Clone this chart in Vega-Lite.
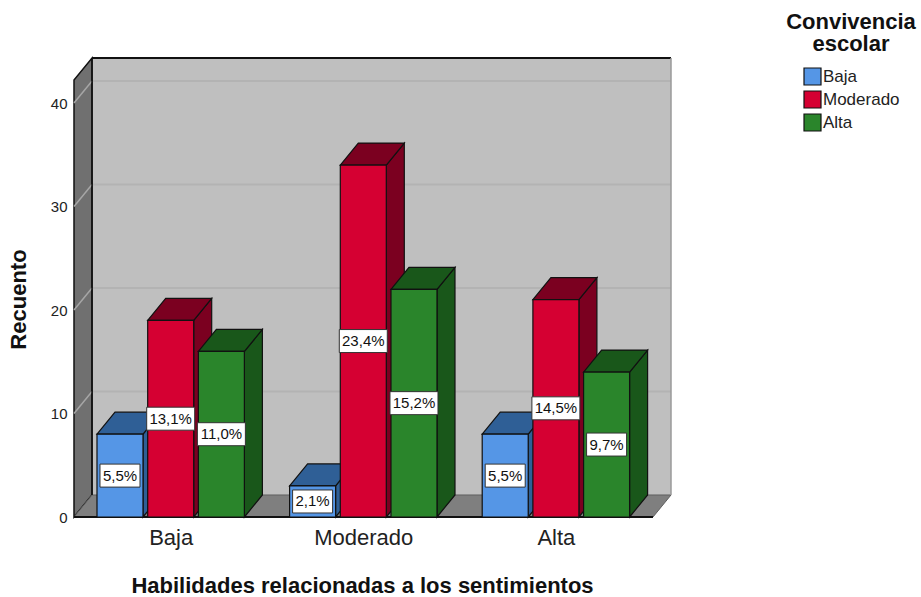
{
"$schema":"https://vega.github.io/schema/vega-lite/v6.json",
"width":597,"height":459,
"autosize":{"type":"none"},
"padding":{"left":74,"top":58,"right":250,"bottom":80},
"background":"white",
"config":{"font":"Liberation Sans","view":{"stroke":null}},
"datasets":{
"barras":[
{"grupo":"Baja","serie":"Baja","recuento":8,"pct":"5,5%"},
{"grupo":"Baja","serie":"Moderado","recuento":19,"pct":"13,1%"},
{"grupo":"Baja","serie":"Alta","recuento":16,"pct":"11,0%"},
{"grupo":"Moderado","serie":"Baja","recuento":3,"pct":"2,1%"},
{"grupo":"Moderado","serie":"Moderado","recuento":34,"pct":"23,4%"},
{"grupo":"Moderado","serie":"Alta","recuento":22,"pct":"15,2%"},
{"grupo":"Alta","serie":"Baja","recuento":8,"pct":"5,5%"},
{"grupo":"Alta","serie":"Moderado","recuento":21,"pct":"14,5%"},
{"grupo":"Alta","serie":"Alta","recuento":14,"pct":"9,7%"}
],
"marcas":[{"t":10},{"t":20},{"t":30},{"t":40}]
},
"encoding":{
"x":{"field":"X","type":"quantitative","scale":{"domain":[-0.502,2.5976],"nice":false,"zero":false},
"axis":{"values":[0,1,2],"labelExpr":"['Baja','Moderado','Alta'][datum.value]","grid":false,"ticks":false,"domain":false,"labelFontSize":22,"labelColor":"#222222","labelPadding":10,"labelOverlap":false,"labelFlush":false,"labelBound":false,"title":"Habilidades relacionadas a los sentimientos","titleFontSize":22,"titleFontWeight":"bold","titleColor":"#111111","titleX":288,"titleY":58}},
"y":{"field":"Y","type":"quantitative","stack":null,"scale":{"domain":[0,44.35],"nice":false,"zero":false},
"axis":{"values":[0,10,20,30,40],"grid":false,"ticks":false,"domain":false,"labelFontSize":15,"labelColor":"#222222","labelPadding":7,"labelOverlap":false,"labelBound":false,"labelFlush":false,"title":"Recuento","titleFontSize":22,"titleFontWeight":"bold","titleColor":"#111111","titleX":-44,"titleY":241}}
},
"layer":[
{"data":{"values":[{"k":0}]},"mark":{"type":"rect","fill":"#bfbfbf"},
"transform":[{"calculate":"-0.4085","as":"X"},{"calculate":"2.5976","as":"X2"},{"calculate":"2.126","as":"Y"},{"calculate":"44.35","as":"Y2"}],
"encoding":{"x2":{"field":"X2"},"y2":{"field":"Y2"}}},
{"data":{"name":"marcas"},"mark":{"type":"rule","stroke":"#b3b3b3","strokeWidth":2},
"transform":[{"calculate":"-0.4085","as":"X"},{"calculate":"2.5976","as":"X2"},{"calculate":"datum.t+2.126","as":"Y"}],
"encoding":{"x2":{"field":"X2"}}},
{"data":{"values":[{"k":0},{"k":1}]},"mark":{"type":"area","orient":"vertical","fill":"#707070","stroke":"#111111","strokeWidth":1.5},
"transform":[{"calculate":"-0.502+datum.k*0.0935","as":"X"},{"calculate":"datum.k*2.126","as":"Y"},{"calculate":"42.224+datum.k*2.126","as":"Y2"}],
"encoding":{"y2":{"field":"Y2"}}},
{"data":{"name":"marcas"},"mark":{"type":"rule","stroke":"#a6a6a6","strokeWidth":1.5},
"transform":[{"calculate":"-0.502","as":"X"},{"calculate":"-0.4085","as":"X2"},{"calculate":"datum.t","as":"Y"},{"calculate":"datum.t+2.126","as":"Y2"}],
"encoding":{"x2":{"field":"X2"},"y2":{"field":"Y2"}}},
{"data":{"values":[{"k":0},{"k":1},{"k":2},{"k":3}]},"mark":{"type":"area","orient":"vertical","fill":"#7f7f7f","stroke":"#5f5f5f","strokeWidth":1},
"transform":[{"calculate":"[-0.502,-0.4085,2.5041,2.5976][datum.k]","as":"X"},{"calculate":"[0,0,0,2.126][datum.k]","as":"Y"},{"calculate":"[0,2.126,2.126,2.126][datum.k]","as":"Y2"}],
"encoding":{"y2":{"field":"Y2"}}},
{"data":{"values":[{"k":0}]},"mark":{"type":"rule","stroke":"#111111","strokeWidth":2},
"transform":[{"calculate":"-0.4085","as":"X"},{"calculate":"2.5976","as":"X2"},{"calculate":"44.35","as":"Y"}],
"encoding":{"x2":{"field":"X2"}}},
{"data":{"values":[{"k":0}]},"mark":{"type":"rule","stroke":"#111111","strokeWidth":1.5},
"transform":[{"calculate":"-0.4085","as":"X"},{"calculate":"2.126","as":"Y"},{"calculate":"44.35","as":"Y2"}],
"encoding":{"y2":{"field":"Y2"}}},
{"data":{"values":[{"k":0}]},"mark":{"type":"rule","stroke":"#9a9a9a","strokeWidth":1.5},
"transform":[{"calculate":"2.5976","as":"X"},{"calculate":"2.126","as":"Y"},{"calculate":"44.35","as":"Y2"}],
"encoding":{"y2":{"field":"Y2"}}},
{"data":{"values":[{"k":0}]},"mark":{"type":"rule","stroke":"#111111","strokeWidth":2},
"transform":[{"calculate":"-0.502","as":"X"},{"calculate":"2.5041","as":"X2"},{"calculate":"0","as":"Y"}],
"encoding":{"x2":{"field":"X2"}}},
{"data":{"name":"barras"},
"transform":[
{"calculate":"indexof(['Baja','Moderado','Alta'],datum.grupo)","as":"g"},
{"calculate":"indexof(['Baja','Moderado','Alta'],datum.serie)","as":"s"},
{"calculate":"datum.g+(datum.s-1)*0.2632","as":"xc"},
{"calculate":"datum.xc-0.1194","as":"xl"},
{"calculate":"datum.serie+' oscuro'","as":"tono"}
],
"layer":[
{"mark":{"type":"area","orient":"vertical","stroke":"#111111","strokeWidth":1.2},
"transform":[{"calculate":"[0,1]","as":"k"},{"flatten":["k"]},
{"calculate":"datum.xl+0.2388+datum.k*0.0935","as":"X"},{"calculate":"datum.k*2.126","as":"Y"},{"calculate":"datum.recuento+datum.k*2.126","as":"Y2"}],
"encoding":{"y2":{"field":"Y2"},"detail":{"field":"grupo"},"color":{"field":"tono","type":"nominal","scale":{"domain":["Baja","Moderado","Alta","Baja oscuro","Moderado oscuro","Alta oscuro"],"range":["#5596e6","#d50032","#2a852b","#2f5f96","#7b0020","#19571a"]},"legend":{"values":["Baja","Moderado","Alta"],"orient":"none","legendX":712,"legendY":-46,"title":["Convivencia","escolar"],"titleFontSize":22,"titleFontWeight":"bold","titleColor":"#111111","titleAlign":"center","titleAnchor":"middle","titleLineHeight":22,"titlePadding":11,"symbolType":"square","symbolSize":289,"symbolStrokeColor":"#111111","symbolStrokeWidth":1.2,"labelFontSize":17,"labelColor":"#222222","labelOffset":1,"rowPadding":0}}}},
{"mark":{"type":"area","orient":"vertical","stroke":"#111111","strokeWidth":1.2},
"transform":[{"calculate":"[0,1,2,3]","as":"k"},{"flatten":["k"]},
{"calculate":"datum.xl+[0,0.0935,0.2388,0.3323][datum.k]","as":"X"},{"calculate":"datum.recuento+[0,0,0,2.126][datum.k]","as":"Y"},{"calculate":"datum.recuento+[0,2.126,2.126,2.126][datum.k]","as":"Y2"}],
"encoding":{"y2":{"field":"Y2"},"detail":{"field":"grupo"},"color":{"field":"tono","type":"nominal"}}},
{"mark":{"type":"rect","stroke":"#111111","strokeWidth":1.2},
"transform":[{"calculate":"datum.xl","as":"X"},{"calculate":"datum.xl+0.2388","as":"X2"},{"calculate":"0","as":"Y"},{"calculate":"datum.recuento","as":"Y2"}],
"encoding":{"x2":{"field":"X2"},"y2":{"field":"Y2"},"color":{"field":"serie","type":"nominal"}}},
{"mark":{"type":"rect","fill":"white","stroke":"#333333","strokeWidth":1,"width":40,"height":23},
"transform":[{"filter":"length(datum.pct)==4"},{"calculate":"datum.xc","as":"X"},{"calculate":"datum.recuento/2","as":"Y"}]},
{"mark":{"type":"rect","fill":"white","stroke":"#333333","strokeWidth":1,"width":48,"height":23},
"transform":[{"filter":"length(datum.pct)==5"},{"calculate":"datum.xc","as":"X"},{"calculate":"datum.recuento/2","as":"Y"}]},
{"mark":{"type":"text","fontSize":15,"fill":"#111111","align":"center","baseline":"middle"},
"transform":[{"calculate":"datum.xc","as":"X"},{"calculate":"datum.recuento/2","as":"Y"}],
"encoding":{"text":{"field":"pct"}}}
]}
]
}
